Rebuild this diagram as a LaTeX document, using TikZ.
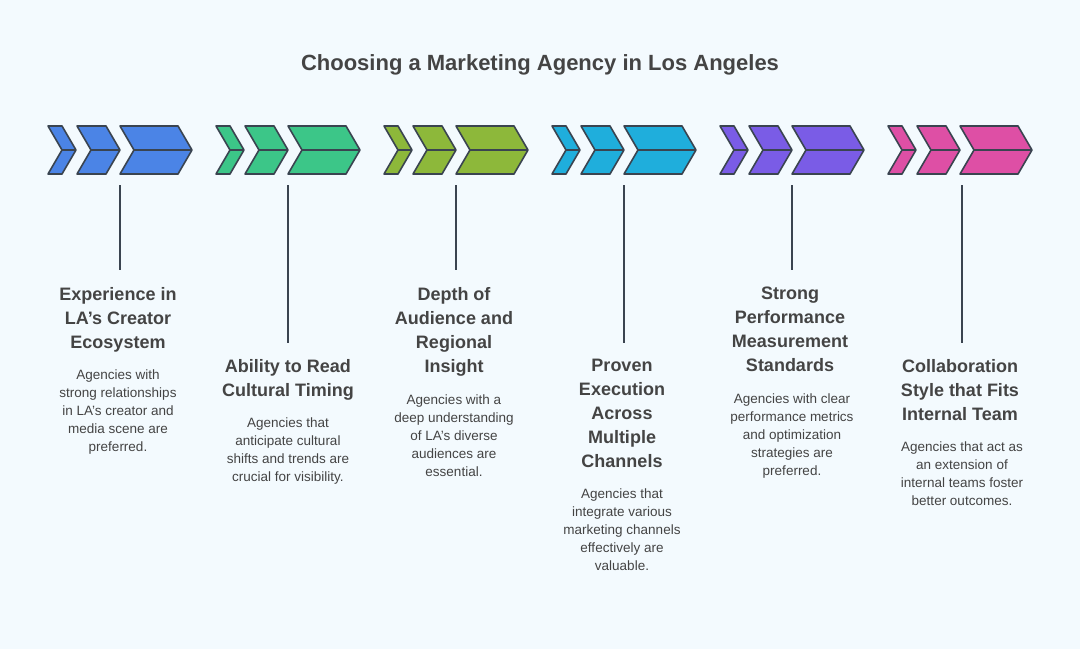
\documentclass[tikz,border=0pt]{standalone}
\usepackage{fontspec}
\setmainfont{Liberation Sans}
\definecolor{bg}{HTML}{F3FAFE}
\definecolor{ink}{HTML}{3A4450}
\definecolor{txt}{HTML}{444444}
\definecolor{c1}{HTML}{4B84E6}
\definecolor{c2}{HTML}{3CC688}
\definecolor{c3}{HTML}{8DB83A}
\definecolor{c4}{HTML}{1FAEDC}
\definecolor{c5}{HTML}{7A5CE6}
\definecolor{c6}{HTML}{DE4FA5}
\tikzset{
  chev/.style={draw=ink,line width=1.6pt,line join=round},
  head/.style={align=center,font=\fontsize{18}{24}\selectfont\bfseries,text=txt,inner sep=0pt,anchor=north},
  desc/.style={align=center,font=\fontsize{13.5}{18}\selectfont,text=txt,inner sep=0pt,anchor=north},
  stem/.style={draw=ink,line width=1.6pt}
}
\newcommand{\onechev}[3]{%
  \fill[#3] (#1,126)--(#2,126)--(#2+14,150)--(#2,174)--(#1,174)--(#1+14,150)--cycle;
  \draw[chev] (#1,126)--(#2,126)--(#2+14,150)--(#2,174)--(#1,174)--(#1+14,150)--cycle;
  \draw[chev] (#1+14,150)--(#2+14,150);}
\newcommand{\group}[2]{%
  \onechev{#1}{#1+14}{#2}\onechev{#1+29}{#1+58}{#2}\onechev{#1+72}{#1+130}{#2}}
\begin{document}
\begin{tikzpicture}[x=1pt,y=-1pt]
\fill[bg] (0,0) rectangle (1080,649);
\useasboundingbox (0,0) rectangle (1080,649);
\node[font=\fontsize{22}{26}\selectfont\bfseries,text=txt] (title) at (540,65) {Choosing a Marketing Agency in Los Angeles};
\group{48}{c1}\group{216}{c2}\group{384}{c3}\group{552}{c4}\group{720}{c5}\group{888}{c6}
% group 1
\coordinate (s1) at (120,185);
\node[head] (h1) at (118,287) {Experience in\\LA's Creator\\Ecosystem};
\node[desc] (d1) at (118,370) {Agencies with\\strong relationships\\in LA's creator and\\media scene are\\preferred.};
\draw[stem] (s1) -- (120,270);
% group 2
\coordinate (s2) at (288,185);
\node[head] (h2) at (288,359) {Ability to Read\\Cultural Timing};
\node[desc] (d2) at (288,418) {Agencies that\\anticipate cultural\\shifts and trends are\\crucial for visibility.};
\draw[stem] (s2) -- (288,343);
% group 3
\coordinate (s3) at (456,185);
\node[head] (h3) at (454,287) {Depth of\\Audience and\\Regional\\Insight};
\node[desc] (d3) at (454,395) {Agencies with a\\deep understanding\\of LA's diverse\\audiences are\\essential.};
\draw[stem] (s3) -- (456,270);
% group 4
\coordinate (s4) at (624,185);
\node[head] (h4) at (622,359) {Proven\\Execution\\Across\\Multiple\\Channels};
\node[desc] (d4) at (622,489) {Agencies that\\integrate various\\marketing channels\\effectively are\\valuable.};
\draw[stem] (s4) -- (624,343);
% group 5
\coordinate (s5) at (792,185);
\node[head] (h5) at (790,287) {Strong\\Performance\\Measurement\\Standards};
\node[desc] (d5) at (792,394) {Agencies with clear\\performance metrics\\and optimization\\strategies are\\preferred.};
\draw[stem] (s5) -- (792,270);
% group 6
\coordinate (s6) at (962,185);
\node[head] (h6) at (960,359) {Collaboration\\Style that Fits\\Internal Team};
\node[desc] (d6) at (962,442) {Agencies that act as\\an extension of\\internal teams foster\\better outcomes.};
\draw[stem] (s6) -- (962,343);
\end{tikzpicture}
\end{document}
